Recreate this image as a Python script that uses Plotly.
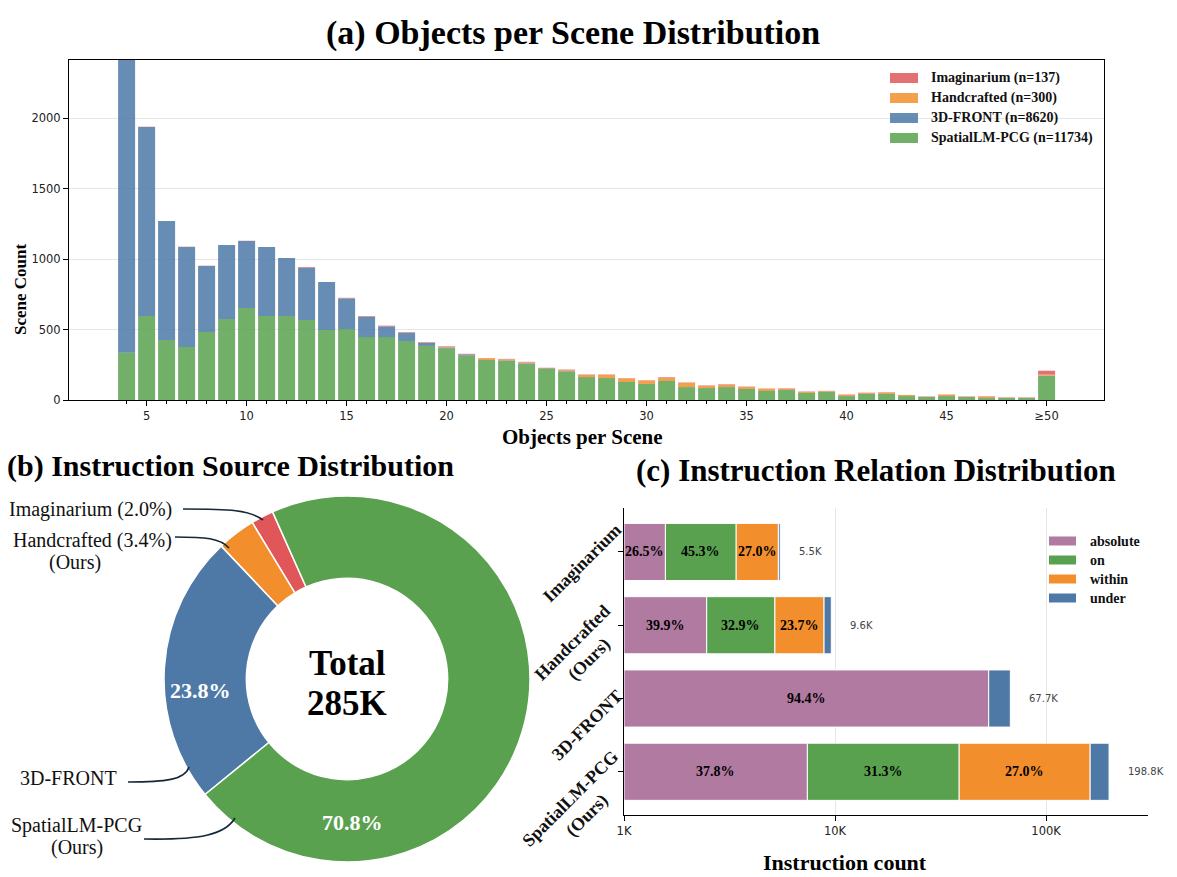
import math
import plotly.graph_objects as go

W, H = 1177, 877
SERIF = "Liberation Serif"
SANS = "DejaVu Sans"

# ---------------- (a) Objects per Scene Distribution ----------------
objects_per_scene = list(range(4, 50)) + [50]
objects_tick_vals = [5, 10, 15, 20, 25, 30, 35, 40, 45, 50]
objects_tick_text = ["5", "10", "15", "20", "25", "30", "35", "40", "45", "≥50"]
scene_tick_vals = [0, 500, 1000, 1500, 2000]

spatiallm_counts = [336, 597, 426, 376, 483, 575, 653, 597, 597, 568, 497, 504, 447, 447, 419, 384,
                    367, 315, 284, 277, 256, 225, 201, 163, 156, 128, 114, 135, 92, 85, 92, 78,
                    64, 71, 50, 57, 28, 43, 43, 28, 21, 28, 21, 14, 14, 14, 173]
front3d_counts = [2095, 1342, 845, 711, 469, 526, 476, 490, 411, 372, 341, 218, 145, 76, 59, 21,
                  6, 9, 0, 4, 4, 0, 4, 0, 0, 0, 0, 0, 0, 0, 0, 0,
                  0, 0, 0, 0, 0, 0, 0, 0, 0, 0, 0, 0, 0, 0, 0]
handcrafted_counts = [0, 0, 0, 0, 0, 0, 0, 0, 0, 0, 0, 2, 0, 0, 0, 0,
                      5, 0, 12, 8, 7, 0, 7, 15, 22, 24, 23, 21, 29, 14, 15, 14,
                      14, 7, 7, 5, 8, 7, 7, 8, 0, 8, 0, 10, 0, 0, 7]
imaginarium_counts = [0, 2, 0, 2, 2, 0, 2, 0, 0, 5, 0, 2, 4, 5, 4, 5,
                      4, 4, 2, 3, 4, 4, 4, 3, 3, 3, 3, 5, 3, 4, 4, 3,
                      3, 4, 3, 3, 3, 2, 4, 0, 4, 3, 4, 3, 4, 4, 28]
source_legend_labels = ["Imaginarium (n=137)", "Handcrafted (n=300)",
                        "3D-FRONT (n=8620)", "SpatialLM-PCG (n=11734)"]

# ---------------- (b) Instruction Source Distribution ----------------
pie_labels = ["Imaginarium", "Handcrafted", "3D-FRONT", "SpatialLM-PCG"]
pie_share = [2.0, 3.4, 23.8, 70.8]
total_instructions = "285K"

# ---------------- (c) Instruction Relation Distribution ----------------
relation_sources = ["Imaginarium", "Handcrafted<br>(Ours)", "3D-FRONT", "SpatialLM-PCG<br>(Ours)"]
relation_totals = [5500, 9600, 67700, 198800]
relation_total_text = ["5.5K", "9.6K", "67.7K", "198.8K"]
relation_names = ["absolute", "on", "within", "under"]
absolute_pct = [26.5, 39.9, 94.4, 37.8]
on_pct = [45.3, 32.9, 0.0, 31.3]
within_pct = [27.0, 23.7, 0.0, 27.0]
under_pct = [1.2, 3.5, 5.6, 3.9]
count_tick_vals = [1000, 10000, 100000]
count_tick_text = ["1K", "10K", "100K"]

# ---------------- styling ----------------
C_RED, C_ORANGE, C_BLUE, C_GREEN, C_PURPLE = "#e15759", "#f28e2b", "#4e79a7", "#59a14f", "#b07aa1"


def rgba(hexc, a):
    hexc = hexc.lstrip("#")
    r, g, b = int(hexc[0:2], 16), int(hexc[2:4], 16), int(hexc[4:6], 16)
    return f"rgba({r},{g},{b},{a})"


def PX(px):
    return px / W


def PY(py):
    return 1 - py / H


def note(x, y, text, size, family=SERIF, color="black", bold=False, xanchor="center",
         ref=("paper", "paper"), angle=0, yshift=0):
    f = dict(family=family, size=size, color=color)
    if bold:
        f["weight"] = "bold"
    return dict(x=x, y=y, xref=ref[0], yref=ref[1], text=text, showarrow=False,
                xanchor=xanchor, yanchor="middle", textangle=angle, yshift=yshift,
                align="center", font=f)


fig = go.Figure()

# ---- (a) stacked bars (bottom -> top) ----
stack_series = [spatiallm_counts, front3d_counts, handcrafted_counts, imaginarium_counts]
stack_colors = [C_GREEN, C_BLUE, C_ORANGE, C_RED]
stack_names = [source_legend_labels[3], source_legend_labels[2], source_legend_labels[1], source_legend_labels[0]]
base = [0] * len(objects_per_scene)
for vals, col, nm in zip(stack_series, stack_colors, stack_names):
    fig.add_trace(go.Bar(
        x=objects_per_scene, y=vals, base=list(base), width=0.85, name=nm,
        marker=dict(color=rgba(col, 0.85), line=dict(width=0)),
        xaxis="x", yaxis="y", showlegend=False, hoverinfo="skip"))
    base = [b + v for b, v in zip(base, vals)]

# ---- (b) donut ----
# the first (counter-clockwise) slice begins 24 degrees left of 12 o'clock
start_ccw_deg = 24
fig.add_trace(go.Pie(
    labels=pie_labels, values=pie_share, sort=False, direction="counterclockwise",
    rotation=-(start_ccw_deg + 360 * pie_share[0] / sum(pie_share)), hole=0.55,
    textinfo="none", showlegend=False, hoverinfo="skip",
    marker=dict(colors=[C_RED, C_ORANGE, C_BLUE, C_GREEN], line=dict(color="white", width=1.5)),
    domain=dict(x=[PX(164), PX(530)], y=[PY(862), PY(496)])))

# ---- (c) log-scale stacked bars, segments proportional in log space ----
pct_table = [absolute_pct, on_pct, within_pct, under_pct]
rel_colors = [C_PURPLE, C_GREEN, C_ORANGE, C_BLUE]
annotations = []
cum = [0.0] * len(relation_sources)
for j, (nm, pcts, col) in enumerate(zip(relation_names, pct_table, rel_colors)):
    bases, lengths = [], []
    for i, T in enumerate(relation_totals):
        span = math.log10(T) - 3
        lo_l = 3 + span * cum[i] / 100
        hi_l = 3 + span * (cum[i] + pcts[i]) / 100
        lo, hi = 10 ** lo_l, 10 ** hi_l
        if pcts[i] > 0:
            bases.append(lo)
            lengths.append(hi - lo)
            if nm != "under":
                annotations.append(note((lo_l + hi_l) / 2, relation_sources[i], f"{pcts[i]:.1f}%",
                                        14, bold=True, ref=("x2", "y2")))
        else:
            bases.append(None)
            lengths.append(None)
        cum[i] += pcts[i]
    fig.add_trace(go.Bar(
        y=relation_sources, x=lengths, base=bases, orientation="h", width=0.78, name=nm,
        marker=dict(color=col, line=dict(color="white", width=1)),
        xaxis="x2", yaxis="y2", showlegend=False, hoverinfo="skip"))

for i, T in enumerate(relation_totals):
    annotations.append(note(math.log10(T * 1.2), relation_sources[i], relation_total_text[i], 10,
                            family=SANS, color="#444444", xanchor="left", ref=("x2", "y2")))

# rotated category labels for (c), placed beside each category tick
cat_label_shift = [-11, -26, -26, -35]
cat_label_right = [628, 634, 629, 642]
for src, dy, rx in zip(relation_sources, cat_label_shift, cat_label_right):
    annotations.append(note(PX(rx), src, src, 18, color="#111", bold=True, xanchor="right",
                            ref=("paper", "y2"), angle=-45, yshift=dy))

# ---- manual legends ----
shapes = []
leg_a_rows = [78, 98, 118, 138]
for lbl, col, ry in zip(source_legend_labels, [C_RED, C_ORANGE, C_BLUE, C_GREEN], leg_a_rows):
    shapes.append(dict(type="rect", xref="paper", yref="paper", x0=PX(890), x1=PX(918),
                       y0=PY(ry + 5), y1=PY(ry - 5), fillcolor=rgba(col, 0.85), line=dict(width=0)))
    annotations.append(note(PX(929), PY(ry), lbl, 14, color="#111", bold=True, xanchor="left"))
leg_c_rows = [541, 560, 579, 598]
for lbl, col, ry in zip(relation_names, rel_colors, leg_c_rows):
    shapes.append(dict(type="rect", xref="paper", yref="paper", x0=PX(1049), x1=PX(1076),
                       y0=PY(ry + 4.5), y1=PY(ry - 4.5), fillcolor=col, line=dict(width=0)))
    annotations.append(note(PX(1088), PY(ry), lbl, 14, color="#111", bold=True, xanchor="left"))

# ---- donut texts & connectors ----
annotations.append(note(PX(347), PY(663), "Total", 35, bold=True))
annotations.append(note(PX(347), PY(703), total_instructions, 35, bold=True))
annotations.append(note(PX(200), PY(690), f"{pie_share[2]:.1f}%", 22, color="white", bold=True))
annotations.append(note(PX(352), PY(822), f"{pie_share[3]:.1f}%", 22, color="white", bold=True))

outer_labels = [
    (f"{pie_labels[0]} ({pie_share[0]:.1f}%)", 90, 509),
    (f"{pie_labels[1]} ({pie_share[1]:.1f}%)", 92, 540),
    ("(Ours)", 75, 562),
    (pie_labels[2], 68, 778),
    (pie_labels[3], 77, 825),
    ("(Ours)", 77, 847),
]
for txt, cx, cy in outer_labels:
    annotations.append(note(PX(cx), PY(cy), txt, 20, color="#111"))

connectors = [
    [(183, 509), (230, 509), (250, 510), (263, 520)],
    [(175, 537), (205, 537), (220, 538), (229, 548)],
    [(128, 782), (165, 782), (185, 780), (189, 767)],
    [(144, 839), (200, 840), (225, 835), (235, 818)],
]
for pts in connectors:
    p = [f"{PX(x):.5f},{PY(y):.5f}" for x, y in pts]
    shapes.append(dict(type="path", xref="paper", yref="paper",
                       path=f"M {p[0]} C {p[1]} {p[2]} {p[3]}",
                       line=dict(color="#14283a", width=1.6)))

# ---- titles & axis titles ----
annotations += [
    note(PX(573), PY(33), "(a) Objects per Scene Distribution", 34, bold=True),
    note(PX(230), PY(466), "(b) Instruction Source Distribution", 30, bold=True),
    note(PX(876), PY(470), "(c) Instruction Relation Distribution", 31, bold=True),
    note(PX(582), PY(437), "Objects per Scene", 21, bold=True),
    note(PX(20), PY(290), "Scene Count", 17, bold=True, angle=-90),
    note(PX(845), PY(862), "Instruction count", 22, bold=True),
]

tickfont = dict(family=SANS, size=11.5, color="#222")

fig.update_layout(
    width=W, height=H, margin=dict(l=0, r=0, t=0, b=0, pad=0, autoexpand=False),
    paper_bgcolor="white", plot_bgcolor="white", barmode="overlay",
    showlegend=False, annotations=annotations, shapes=shapes,
    xaxis=dict(domain=[PX(69), PX(1104)], range=[1.12, 52.87], anchor="y",
               tickmode="array", tickvals=objects_tick_vals, ticktext=objects_tick_text,
               ticks="outside", ticklen=5, tickcolor="black", showline=True, linecolor="black",
               linewidth=1, mirror=True, showgrid=False, zeroline=False, tickfont=tickfont,
               minor=dict(tickmode="array", tickvals=objects_per_scene[:-1], ticks="outside",
                          ticklen=2.5, tickcolor="black", showgrid=False)),
    yaxis=dict(domain=[PY(400), PY(60)], range=[0, 2415], anchor="x",
               tickmode="array", tickvals=scene_tick_vals, ticks="outside", ticklen=5,
               tickcolor="black", showline=True, linecolor="black", linewidth=1, mirror=True,
               showgrid=True, gridcolor="#e6e6e6", gridwidth=1, zeroline=False, tickfont=tickfont),
    xaxis2=dict(domain=[PX(624), PX(1148)], type="log", range=[3, math.log10(304000)], anchor="y2",
                tickmode="array", tickvals=count_tick_vals, ticktext=count_tick_text,
                ticks="outside", ticklen=5, tickcolor="black", showline=True, linecolor="black",
                linewidth=1, showgrid=True, gridcolor="#e6e6e6", zeroline=False, tickfont=tickfont),
    yaxis2=dict(domain=[PY(815), PY(508)], type="category", categoryorder="array",
                categoryarray=relation_sources, range=[3.59, -0.6], anchor="x2",
                ticks="outside", ticklen=5, tickcolor="black", showline=True, linecolor="black",
                linewidth=1, showgrid=False, zeroline=False, showticklabels=False),
)

fig.write_html("out.html")
